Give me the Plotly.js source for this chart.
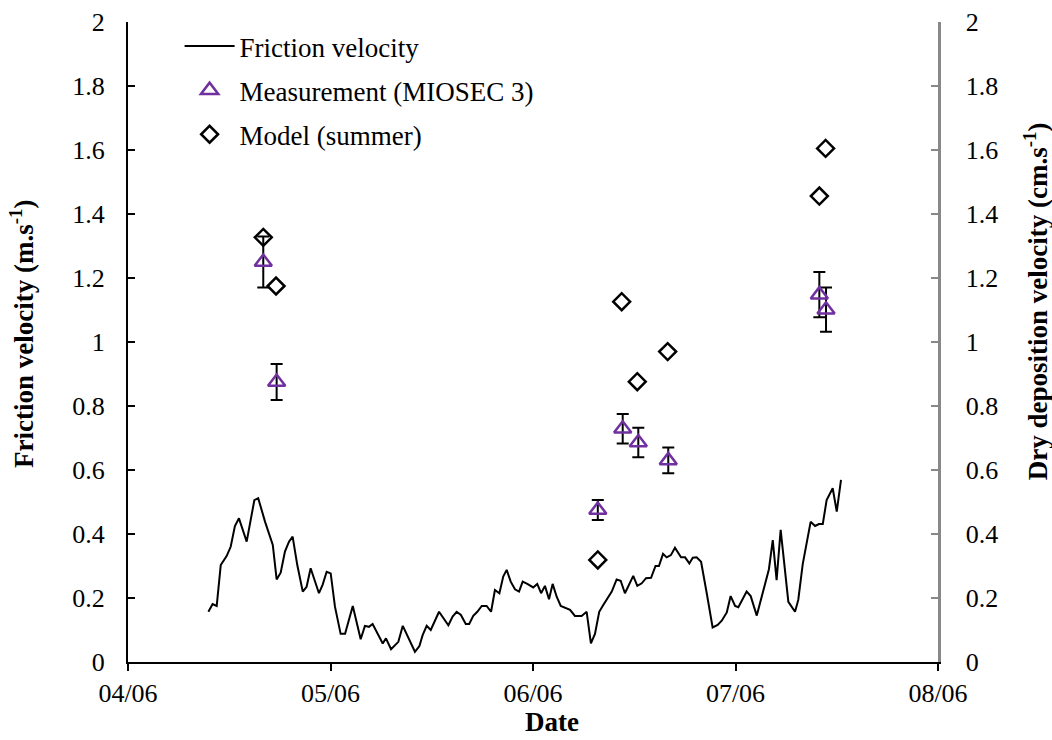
<!DOCTYPE html>
<html>
<head>
<meta charset="utf-8">
<script src="https://cdn.plot.ly/plotly-3.0.1.min.js"></script>
<style>html,body{margin:0;padding:0;background:#fff;}#chart{width:1052px;height:740px;}</style>
</head>
<body>
<div id="chart"></div>
<script>
// Friction velocity time series (x in days of June, y in m/s)
var frictionDay = [4.397,4.418,4.438,4.458,4.487,4.507,4.528,4.548,4.586,4.624,4.643,4.677,4.715,4.734,4.754,4.775,4.795,4.813,4.836,4.863,4.882,4.902,4.943,4.961,4.981,5.001,5.022,5.050,5.072,5.110,5.149,5.170,5.190,5.208,5.258,5.274,5.299,5.335,5.357,5.389,5.417,5.439,5.455,5.475,5.495,5.536,5.582,5.603,5.623,5.644,5.668,5.685,5.705,5.725,5.747,5.771,5.793,5.812,5.834,5.853,5.870,5.890,5.911,5.931,5.949,5.972,6.001,6.021,6.040,6.059,6.079,6.097,6.117,6.137,6.183,6.207,6.240,6.265,6.286,6.306,6.327,6.347,6.389,6.413,6.433,6.454,6.474,6.495,6.515,6.537,6.558,6.583,6.605,6.622,6.642,6.660,6.681,6.701,6.731,6.751,6.772,6.789,6.808,6.830,6.858,6.887,6.912,6.932,6.957,6.976,6.998,7.014,7.055,7.075,7.105,7.126,7.146,7.165,7.184,7.203,7.223,7.261,7.294,7.310,7.332,7.371,7.393,7.412,7.431,7.450,7.480,7.500,7.521];
var frictionVel = [0.157,0.181,0.175,0.303,0.331,0.360,0.425,0.449,0.376,0.506,0.512,0.438,0.366,0.258,0.279,0.345,0.376,0.392,0.303,0.220,0.235,0.293,0.215,0.241,0.282,0.277,0.173,0.088,0.088,0.175,0.071,0.113,0.110,0.119,0.058,0.074,0.040,0.063,0.113,0.069,0.032,0.050,0.084,0.113,0.100,0.157,0.115,0.142,0.157,0.147,0.119,0.119,0.144,0.157,0.175,0.175,0.157,0.225,0.215,0.267,0.288,0.251,0.227,0.220,0.251,0.244,0.233,0.244,0.215,0.238,0.196,0.244,0.204,0.175,0.163,0.144,0.144,0.157,0.058,0.088,0.157,0.178,0.220,0.258,0.254,0.215,0.244,0.269,0.238,0.246,0.262,0.263,0.300,0.300,0.338,0.327,0.334,0.357,0.327,0.327,0.308,0.326,0.327,0.313,0.215,0.108,0.116,0.129,0.155,0.206,0.175,0.171,0.220,0.206,0.145,0.196,0.248,0.290,0.381,0.256,0.413,0.188,0.157,0.194,0.306,0.438,0.425,0.431,0.431,0.506,0.543,0.470,0.569];

// Measurement (MIOSEC 3) dry deposition velocity (cm/s) with error
var measDay = [4.668,4.734,6.320,6.443,6.520,6.668,7.414,7.447];
var measVal = [1.250,0.875,0.475,0.729,0.686,0.630,1.148,1.101];
var measErr = [0.080,0.056,0.031,0.046,0.046,0.040,0.071,0.069];

// Model (summer)
var modelDay = [4.668,4.731,6.320,6.438,6.515,6.665,7.414,7.445];
var modelVal = [1.327,1.175,0.319,1.126,0.876,0.970,1.456,1.605];

// Axis ticks and titles
var xTickVals = [4,5,6,7,8];
var xTickText = ['04/06','05/06','06/06','07/06','08/06'];
var xTitle = 'Date';
var yTitle = 'Friction velocity (m.s<sup>-1</sup>)';
var y2Title = 'Dry deposition velocity (cm.s<sup>-1</sup>)';

var FONT = 'Liberation Serif, Times New Roman, serif';
var PURPLE = '#7030A0';

var traces = [
  {x: frictionDay, y: frictionVel, type: 'scatter', mode: 'lines', name: 'Friction velocity',
   line: {color: '#000', width: 2}, legendgroup: 'a', legendrank: 1},
  {x: modelDay, y: modelVal, type: 'scatter', mode: 'markers', name: 'Model (summer)', yaxis: 'y2',
   marker: {symbol: 'diamond-open', size: 13, color: '#000', line: {color: '#000', width: 2.5}},
   legendgroup: 'c', legendrank: 3, cliponaxis: false},
  {x: measDay, y: measVal, type: 'scatter', mode: 'markers', name: 'Measurement (MIOSEC 3)', yaxis: 'y2',
   marker: {symbol: 'triangle-up-open', size: 15, color: PURPLE, line: {color: PURPLE, width: 2.5}},
   error_y: {type: 'data', array: measErr, visible: true, color: '#000', thickness: 2, width: 6},
   legendgroup: 'b', legendrank: 2, cliponaxis: false}
];

var titleFont = {family: FONT, size: 27, color: '#000'};

var layout = {
  width: 1052, height: 740,
  margin: {l: 128, r: 114, t: 22, b: 78},
  paper_bgcolor: '#fff', plot_bgcolor: '#fff',
  font: {family: FONT, size: 26, color: '#000'},
  showlegend: true,
  legend: {x: 0.0637, y: 1.0, xanchor: 'left', yanchor: 'top', bgcolor: 'rgba(0,0,0,0)',
           font: {family: FONT, size: 27, color: '#000'}, itemwidth: 50, tracegroupgap: 6,
           traceorder: 'grouped'},
  xaxis: {range: [4, 8], tickmode: 'array', tickvals: xTickVals, ticktext: xTickText,
          showgrid: false, zeroline: false, showline: true, linecolor: '#000', linewidth: 2,
          ticks: 'outside', ticklen: 7, tickwidth: 2, tickcolor: '#000',
          tickfont: {family: FONT, size: 26}},
  yaxis: {range: [0, 2], dtick: 0.2, tick0: 0, showgrid: false, zeroline: false,
          showline: true, linecolor: '#000', linewidth: 2,
          ticks: 'inside', ticklen: 7, tickwidth: 2, tickcolor: '#000', ticklabelstandoff: 16,
          tickfont: {family: FONT, size: 26}},
  yaxis2: {range: [0, 2], dtick: 0.2, tick0: 0, overlaying: 'y', side: 'right',
           showgrid: false, zeroline: false, showline: true, linecolor: '#888', linewidth: 2.5,
           ticks: 'inside', ticklen: 7, tickwidth: 2, tickcolor: '#888', ticklabelstandoff: 20,
           tickfont: {family: FONT, size: 26, color: '#000'}},
  annotations: [
    {text: '<b>' + xTitle + '</b>', xref: 'paper', yref: 'paper', x: 0.5235, y: -0.094,
     xanchor: 'center', yanchor: 'middle', showarrow: false, font: titleFont, borderpad: 0},
    {text: '<b>' + yTitle + '</b>', xref: 'paper', yref: 'paper', x: -0.1309, y: 0.30,
     xanchor: 'center', yanchor: 'bottom', textangle: -90, showarrow: false, font: titleFont},
    {text: '<b>' + y2Title + '</b>', xref: 'paper', yref: 'paper', x: 1.121, y: 0.281,
     xanchor: 'center', yanchor: 'bottom', textangle: -90, showarrow: false, font: titleFont}
  ]
};

Plotly.newPlot('chart', traces, layout, {displayModeBar: false, staticPlot: true});
</script>
</body>
</html>
